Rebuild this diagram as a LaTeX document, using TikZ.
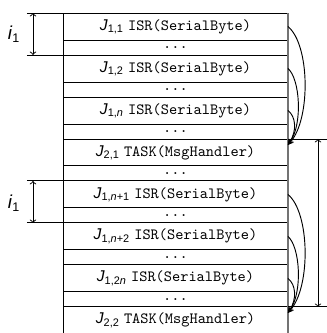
\documentclass[tikz,border=0pt]{standalone}
\usepackage{fontspec}
\setmainfont{Liberation Sans}
\usetikzlibrary{positioning}
\newcommand{\jlab}[1]{\textit{J}\textsubscript{#1}}
\newcommand{\isr}{\texttt{ISR(SerialByte)}}
\newcommand{\task}{\texttt{TASK(MsgHandler)}}
\begin{document}
\begin{tikzpicture}[x=0.0225cm, y=-0.0225cm, line width=0.6pt,
  job/.style={draw, minimum width=5.0625cm, minimum height=0.6075cm, inner sep=0pt, outer sep=0pt},
  gap/.style={job, minimum height=0.3375cm}]
\clip (0,0) rectangle (327,333);
% first period
\node[job, anchor=north west] (a1) at (63,13) {\jlab{1,1} \isr};
\node[gap, below=0pt of a1] (g1) {\texttt{...}};
\node[job, below=0pt of g1] (a2) {\jlab{1,2} \isr};
\node[gap, below=0pt of a2] (g2) {\texttt{...}};
\node[job, below=0pt of g2] (a3) {\jlab{1,\textit{n}} \isr};
\node[gap, below=0pt of a3] (g3) {\texttt{...}};
\node[job, below=0pt of g3] (t1) {\jlab{2,1} \task};
\node[gap, below=0pt of t1] (g4) {\texttt{...}};
% second period
\node[job, below=0pt of g4] (b1) {\jlab{1,\textit{n}+1} \isr};
\node[gap, below=0pt of b1] (g5) {\texttt{...}};
\node[job, below=0pt of g5] (b2) {\jlab{1,\textit{n}+2} \isr};
\node[gap, below=0pt of b2] (g6) {\texttt{...}};
\node[job, below=0pt of g6] (b3) {\jlab{1,2\textit{n}} \isr};
\node[gap, below=0pt of b3] (g7) {\texttt{...}};
\node[job, below=0pt of g7] (t2) {\jlab{2,2} \task};
\draw[black!55, line width=0.9pt] (a1.north east) -- (t2.south east);
% left
\coordinate (lx) at (27,0);
\coordinate (ax) at (33,0);
\draw (lx |- a1.north) -- (a1.north west);
\draw (lx |- g1.south) -- (g1.south west);
\draw[<->] (ax |- a1.north) -- (ax |- g1.south);
\node (i1) at (14,34) {\large\textit{i}\textsubscript{1}};
\draw (lx |- b1.north) -- (b1.north west);
\draw (lx |- g5.south) -- (g5.south west);
\draw[<->] (ax |- b1.north) -- (ax |- g5.south);
\node (i2) at (14,203) {\large\textit{i}\textsubscript{1}};
% right
\coordinate (rx) at (318,0);
\coordinate (ex) at (330,0);
\draw (t1.north east) -- (ex |- t1.north);
\draw (t2.north east) -- (ex |- t2.north);
\draw[<->] (rx |- t1.north) -- (rx |- t2.north);
\coordinate (tip1) at ([yshift=0.17cm]t1.east);
\coordinate (tip2) at ([yshift=0.17cm]t2.east);
\draw[-stealth] (a1.east) .. controls +(22,18) and +(23,-26) .. (tip1);
\draw[-stealth] (a2.east) .. controls +(12,10) and +(15,-21) .. (tip1);
\draw[-stealth] (a3.east) .. controls +(8,6) and +(9,-14) .. (tip1);
\draw[-stealth] (b1.east) .. controls +(22,18) and +(23,-26) .. (tip2);
\draw[-stealth] (b2.east) .. controls +(12,10) and +(15,-21) .. (tip2);
\draw[-stealth] (b3.east) .. controls +(8,6) and +(9,-14) .. (tip2);
\end{tikzpicture}
\end{document}
